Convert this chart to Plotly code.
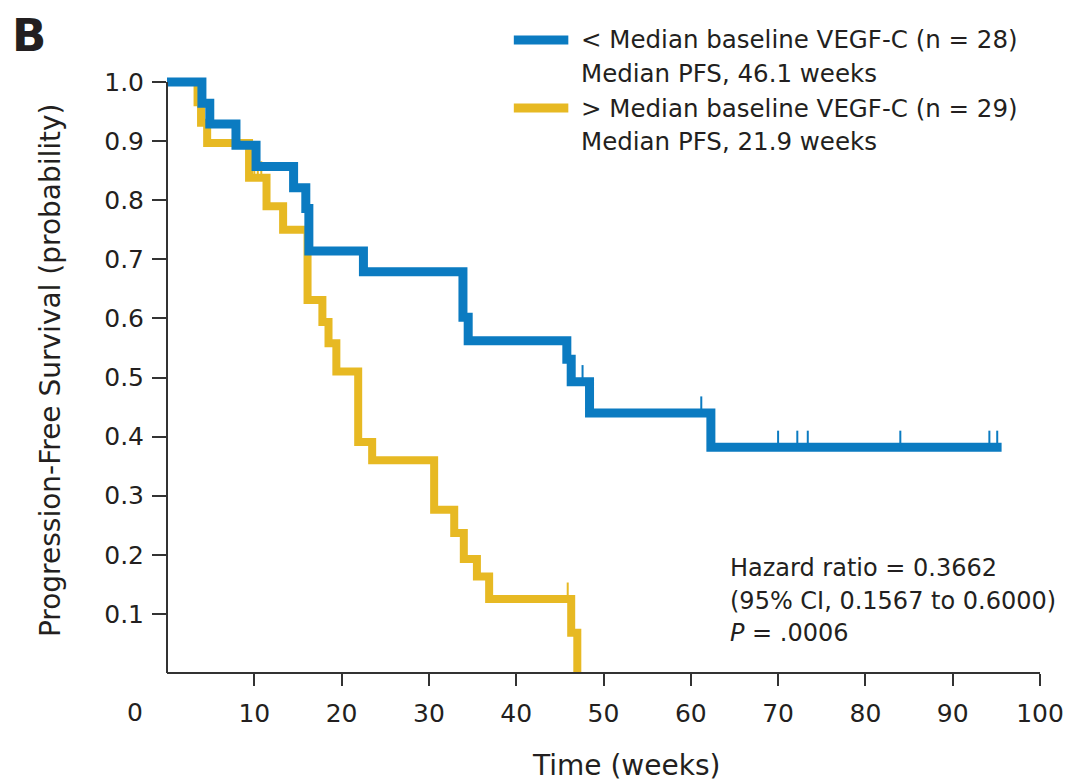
import plotly.graph_objects as go

# ---------------- data ----------------
low_times = [0, 4.0, 4.9, 7.9, 10.2, 14.5, 15.9, 16.25, 22.5, 33.9, 34.5, 45.8, 46.3, 48.4, 62.3, 95.6]
low_surv = [1.0, 0.964, 0.929, 0.893, 0.857, 0.821, 0.786, 0.714, 0.679, 0.602, 0.562, 0.531, 0.493, 0.440, 0.382, 0.382]
low_cens_t = [47.6, 61.2, 70.0, 72.2, 73.4, 84.0, 94.2, 95.1]
low_cens_s = [0.493, 0.440, 0.382, 0.382, 0.382, 0.382, 0.382, 0.382]

high_times = [0, 3.5, 3.9, 4.6, 9.4, 11.4, 13.3, 16.1, 17.8, 18.5, 19.4, 21.9, 23.5, 30.6, 32.9, 34.0, 35.5, 36.9, 46.3, 47.0]
high_surv = [1.0, 0.966, 0.931, 0.897, 0.838, 0.790, 0.750, 0.631, 0.594, 0.558, 0.510, 0.391, 0.360, 0.276, 0.237, 0.193, 0.163, 0.125, 0.068, 0.0]
high_cens_t = [10.0, 10.4, 10.8, 45.9]
high_cens_s = [0.838, 0.838, 0.838, 0.125]

x_ticks = [10, 20, 30, 40, 50, 60, 70, 80, 90, 100]
y_ticks = [0.1, 0.2, 0.3, 0.4, 0.5, 0.6, 0.7, 0.8, 0.9, 1.0]
y_ticktext = ["0.1", "0.2", "0.3", "0.4", "0.5", "0.6", "0.7", "0.8", "0.9", "1.0"]

low_label = ["< Median baseline VEGF-C (n = 28)", "Median PFS, 46.1 weeks"]
high_label = ["> Median baseline VEGF-C (n = 29)", "Median PFS, 21.9 weeks"]
stats_text = ["Hazard ratio = 0.3662", "(95% CI, 0.1567 to 0.6000)", "<i>P</i> = .0006"]

BLUE = "#0B7BC1"
YELLOW = "#E7B923"
TXT = "#231F20"
AX = "#333333"
FONT = "DejaVu Sans, Liberation Sans, sans-serif"

OFF = 8  # page body margin of the browser
W, H = 1076 - OFF, 784 - OFF
L, R, T, B = 167 - OFF, 28, 75 - OFF, 104
YR = [-0.012, 1.012]
CENS_H = 0.028


def px(xr):
    return (xr - OFF - L) / (W - L - R)


def py(yr):
    return (H - B - (yr - OFF)) / (H - T - B)


def cens_segments(ts, ss):
    xs, ys = [], []
    for t, s in zip(ts, ss):
        xs += [t, t, None]
        ys += [s, s + CENS_H, None]
    return xs, ys


fig = go.Figure()
fig.add_trace(go.Scatter(x=high_times, y=high_surv, mode="lines", line=dict(color=YELLOW, width=8, shape="hv"),
                         showlegend=False, hoverinfo="skip"))
cx, cy = cens_segments(high_cens_t, high_cens_s)
fig.add_trace(go.Scatter(x=cx, y=cy, mode="lines", line=dict(color=YELLOW, width=2), showlegend=False, hoverinfo="skip"))
fig.add_trace(go.Scatter(x=low_times, y=low_surv, mode="lines", line=dict(color=BLUE, width=9, shape="hv"),
                         showlegend=False, hoverinfo="skip"))
cx, cy = cens_segments(low_cens_t, low_cens_s)
fig.add_trace(go.Scatter(x=cx, y=cy, mode="lines", line=dict(color=BLUE, width=2), showlegend=False, hoverinfo="skip"))

fig.update_layout(
    width=W, height=H,
    margin=dict(l=L, r=R, t=T, b=B),
    paper_bgcolor="white", plot_bgcolor="white",
    font=dict(family=FONT, size=24, color=TXT),
    xaxis=dict(range=[0, 100], tickvals=x_ticks, ticks="outside", ticklen=12, tickwidth=2, tickcolor=AX,
               showline=True, linewidth=2, linecolor=AX, showgrid=False, zeroline=False,
               anchor="free", position=(0 - YR[0]) / (YR[1] - YR[0]), ticklabelstandoff=6,
               tickfont=dict(size=25, color=TXT)),
    yaxis=dict(range=YR, tickvals=y_ticks, ticktext=y_ticktext, ticks="outside", ticklen=14, tickwidth=2,
               tickcolor=AX, showline=False, showgrid=False, zeroline=False, ticklabelstandoff=3,
               tickfont=dict(size=25, color=TXT)),
)

# y axis line from 0 to 1.0
fig.add_shape(type="line", xref="paper", yref="y", x0=0, x1=0, y0=0, y1=1.0, line=dict(color=AX, width=2))

ann = []
ann.append(dict(text="0", x=px(135), y=py(712), xref="paper", yref="paper", showarrow=False,
                font=dict(size=25, color=TXT), xanchor="center", yanchor="middle"))
ann.append(dict(text="Time (weeks)", x=px(630), y=py(765), xref="paper", yref="paper", showarrow=False,
                font=dict(size=28, color=TXT), xanchor="center", yanchor="middle"))
ann.append(dict(text="Progression-Free Survival (probability)", x=px(49), y=py(370), xref="paper", yref="paper",
                showarrow=False, textangle=-90, font=dict(size=28, color=TXT), xanchor="center", yanchor="middle"))
ann.append(dict(text="<b>B</b>", x=px(10), y=py(8), xref="paper", yref="paper", showarrow=False,
                font=dict(size=45, color=TXT), xanchor="left", yanchor="top", borderpad=0))

for lines, y0 in ((low_label, 40), (high_label, 108)):
    for i, ln in enumerate(lines):
        ann.append(dict(text=ln, x=px(583), y=py(y0 + i * 33), xref="paper", yref="paper", showarrow=False,
                        font=dict(size=24.5, color=TXT), xanchor="left", yanchor="middle"))
for i, ln in enumerate(stats_text):
    ann.append(dict(text=ln, x=px(733), y=py(568 + i * 32.5), xref="paper", yref="paper", showarrow=False,
                    font=dict(size=24, color=TXT), xanchor="left", yanchor="middle"))
fig.update_layout(annotations=ann)

for col, yp in ((BLUE, 40), (YELLOW, 108)):
    fig.add_shape(type="line", xref="paper", yref="paper", x0=px(517), x1=px(572), y0=py(yp), y1=py(yp),
                  line=dict(color=col, width=9))

fig.write_html("out.html")
